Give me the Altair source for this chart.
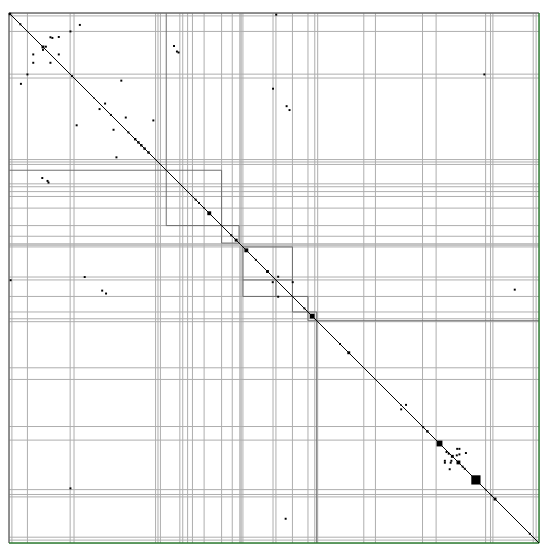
import altair as alt
import pandas as pd

# matrix index units (reference pixel scale), range 1..547
N0, N1 = 1, 547

# light grey separator lines (same for rows and columns)
grid_pos = [4, 20, 64, 68, 152, 154.5, 157, 177, 180, 185, 190, 202, 220, 231,
            242, 273, 276, 293, 309, 316, 319, 366.5, 378.5, 427, 441, 492,
            497, 499.5, 541, 544]
band_lo, band_hi = 238, 241

# dark block boundary segments: x1, y1, x2, y2
seg_x1 = [163, 1, 220, 163, 238, 220, 242, 242, 293, 242, 242, 276, 309, 293, 318, 309]
seg_y1 = [1, 163, 163, 220, 220, 238, 242, 242, 242, 293, 276, 276, 293, 309, 309, 318]
seg_x2 = [163, 220, 220, 238, 238, 238, 242, 293, 293, 309, 293, 276, 309, 318, 318, 547]
seg_y2 = [220, 163, 238, 220, 238, 238, 293, 242, 309, 293, 276, 293, 318, 309, 547, 318]

# dense diagonal blocks: centre index and extent
blk_c = [2, 12.7, 36, 66, 88.7, 106, 124, 131, 134.3, 137.3, 140.7, 144.7, 193.3, 196.7,
         201.7, 207.3, 230, 235, 245.5, 255.3, 267.3, 305.3, 313.3, 342, 351, 405,
         427.7, 432, 444.5, 457.7, 464, 468.3, 470.5, 482, 492, 498, 501.7, 537.5]
blk_s = [2.5, 2, 3, 2, 1.5, 2, 2, 2.5, 2.5, 2.5, 2.5, 2.5, 2, 2, 1.5, 4, 2, 3, 4, 2, 3, 2,
         5, 2, 3, 1.5, 2, 2.5, 6, 3, 4, 2, 2, 9.5, 1.5, 1.5, 3, 2]

# off-diagonal nonzeros (column, row)
nz_col = [74, 13.3, 64.3, 20, 43.7, 45.7, 52.3, 26, 26, 52.3, 43.7, 39, 36,
          171, 174, 175.7, 35.3, 40.7, 41.7, 116.7, 70.7, 100, 94.3, 121.3, 108.7,
          149.7, 111.7, 2.7, 276.3, 273, 79, 287, 290, 97, 101, 64.3, 490.7, 286, 522,
          278.3, 272.7, 293.3, 278.3,
          410, 405, 462.7, 465, 450, 450, 471.7, 455, 465, 456, 462.3, 456.7, 451.7, 454]
nz_row = [13.3, 74, 20, 64.3, 26, 26.7, 25.7, 43.7, 52.3, 43.7, 52.3, 35.7, 39,
          35, 40.7, 41.7, 171, 174, 175.7, 70.7, 116.7, 94.3, 100, 108.7, 121.3,
          111.7, 149.7, 276.3, 2.7, 79, 273, 97, 101, 287, 290, 490.7, 64.3, 522, 286,
          272.7, 278.3, 278.3, 293.3,
          404.7, 409.3, 450, 450, 462.3, 464.3, 454.3, 471, 455.7, 464.3, 456.7, 462.3, 453.3, 455]

LIGHT = "#adadad"
DARK = "#6e6e6e"
GREEN = "#2e7d32"

W = 538
xs = alt.Scale(domain=[N0, N1], nice=False, zero=False)
ys = alt.Scale(domain=[N0, N1], nice=False, zero=False, reverse=True)
X = lambda f: alt.X(f, type="quantitative", scale=xs, axis=None)
Y = lambda f: alt.Y(f, type="quantitative", scale=ys, axis=None)

vlines = pd.DataFrame({"p": grid_pos, "a": N0, "b": N1})
band = pd.DataFrame({"lo": [band_lo], "hi": [band_hi], "a": [N0], "b": [N1]})
segs = pd.DataFrame({"x1": seg_x1, "y1": seg_y1, "x2": seg_x2, "y2": seg_y2})
frame = pd.DataFrame({
    "x1": [N0, N0, N1, N0], "y1": [N0, N0, N0, N1],
    "x2": [N1, N0, N1, N1], "y2": [N0, N1, N1, N1],
    "k": ["d", "d", "g", "g"]})
diag = pd.DataFrame({"x1": [N0], "y1": [N0], "x2": [N1], "y2": [N1]})
blocks = pd.DataFrame({"c": blk_c, "s": blk_s})
blocks["lo"] = blocks["c"] - blocks["s"] / 2
blocks["hi"] = blocks["c"] + blocks["s"] / 2
pts = pd.DataFrame({"c": nz_col, "r": nz_row})

band_v = alt.Chart(band).mark_rect(color="#c4c4c4").encode(x=X("lo"), x2="hi", y=Y("a"), y2="b")
band_h = alt.Chart(band).mark_rect(color="#c4c4c4").encode(y=Y("lo"), y2="hi", x=X("a"), x2="b")
grid_v = alt.Chart(vlines).mark_rule(color=LIGHT, strokeWidth=1).encode(x=X("p"), y=Y("a"), y2="b")
grid_h = alt.Chart(vlines).mark_rule(color=LIGHT, strokeWidth=1).encode(y=Y("p"), x=X("a"), x2="b")
dark = alt.Chart(segs).mark_rule(color=DARK, strokeWidth=1).encode(x=X("x1"), y=Y("y1"), x2="x2", y2="y2")
fr = alt.Chart(frame).mark_rule(strokeWidth=1.5).encode(
    x=X("x1"), y=Y("y1"), x2="x2", y2="y2",
    color=alt.Color("k:N", scale=alt.Scale(domain=["d", "g"], range=[DARK, GREEN]), legend=None))
dg = alt.Chart(diag).mark_rule(color="black", strokeWidth=1).encode(x=X("x1"), y=Y("y1"), x2="x2", y2="y2")
bl = alt.Chart(blocks).mark_rect(color="black").encode(x=X("lo"), x2="hi", y=Y("lo"), y2="hi")
pt = alt.Chart(pts).mark_square(color="black", size=4, opacity=1).encode(x=X("c"), y=Y("r"))

chart = alt.layer(band_v, band_h, grid_v, grid_h, dark, fr, dg, bl, pt).properties(
    width=W, height=W, padding=0
).configure_view(stroke=None).configure(background="white")

chart.save("out.html", embed_options={"renderer": "svg", "actions": False})
